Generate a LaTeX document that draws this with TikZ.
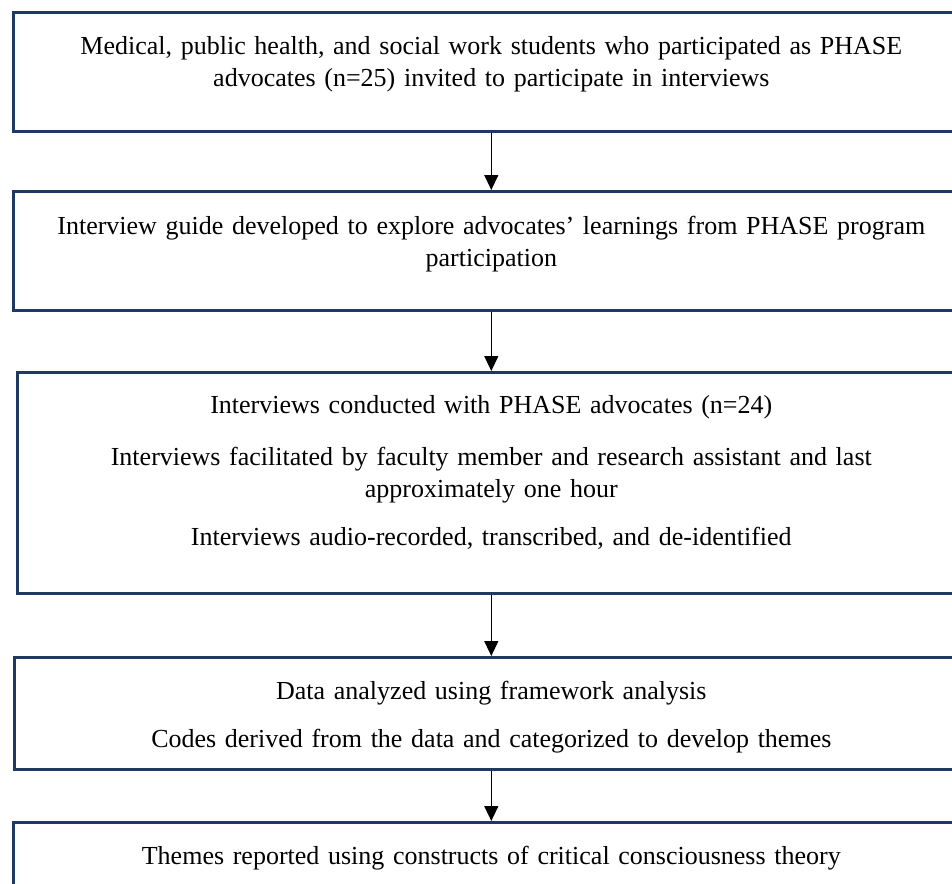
\documentclass[tikz,border=0pt]{standalone}
\usepackage{fontspec}
\setmainfont{Liberation Serif}
\usepackage{xcolor}
\usetikzlibrary{arrows.meta}

\definecolor{boxnavy}{HTML}{203864}

\begin{document}
\begin{tikzpicture}[x=1pt, y=1pt,
  stagebox/.style={draw=boxnavy, line width=2.6pt, anchor=north west, inner sep=0pt, minimum width=956pt},
  stagetext/.style={anchor=north, inner sep=0pt, align=center, text width=940pt, font=\fontsize{26}{32}\selectfont},
  flow/.style={-{Triangle[length=15pt, width=14pt]}, line width=1.3pt, black}]
\useasboundingbox (0,0) rectangle (952,-883);
\clip (0,0) rectangle (952,-883);

% Boxes
\node[stagebox, minimum height=119pt] (invite) at (12,-11) {};
\node[stagebox, minimum height=119pt] (guide) at (12,-190) {};
\node[stagebox, minimum height=221pt, minimum width=948pt] (interview) at (16,-371) {};
\node[stagebox, minimum height=112pt, minimum width=954pt] (analysis) at (13,-656) {};
\node[stagebox, minimum height=120pt] (report) at (12,-821) {};

% Texts
\node[stagetext, yshift=-20.6pt] (invite-text) at (invite.north)
  {\strut Medical, public health, and social work students who participated as PHASE\\advocates (n=25) invited to participate in interviews};
\node[stagetext, yshift=-22.2pt] (guide-text) at (guide.north)
  {\strut Interview guide developed to explore advocates’ learnings from PHASE program\\participation};
\node[stagetext, yshift=-19.8pt] (interview-text) at (interview.north)
  {\strut Interviews conducted with PHASE advocates (n=24)\\[20pt]
   Interviews facilitated by faculty member and research assistant and last\\approximately one hour\\[16pt]
   Interviews audio-recorded, transcribed, and de-identified};
\node[stagetext, yshift=-20.4pt] (analysis-text) at (analysis.north)
  {\strut Data analyzed using framework analysis\\[16pt]
   Codes derived from the data and categorized to develop themes};
\node[stagetext, yshift=-20.4pt] (report-text) at (report.north)
  {\strut Themes reported using constructs of critical consciousness theory};

% Arrows
\draw[flow] (invite.south) -- (guide.north);
\draw[flow] (guide.south) -- (interview.north);
\draw[flow] (interview.south) -- (analysis.north);
\draw[flow] (analysis.south) -- (report.north);
\end{tikzpicture}
\end{document}
